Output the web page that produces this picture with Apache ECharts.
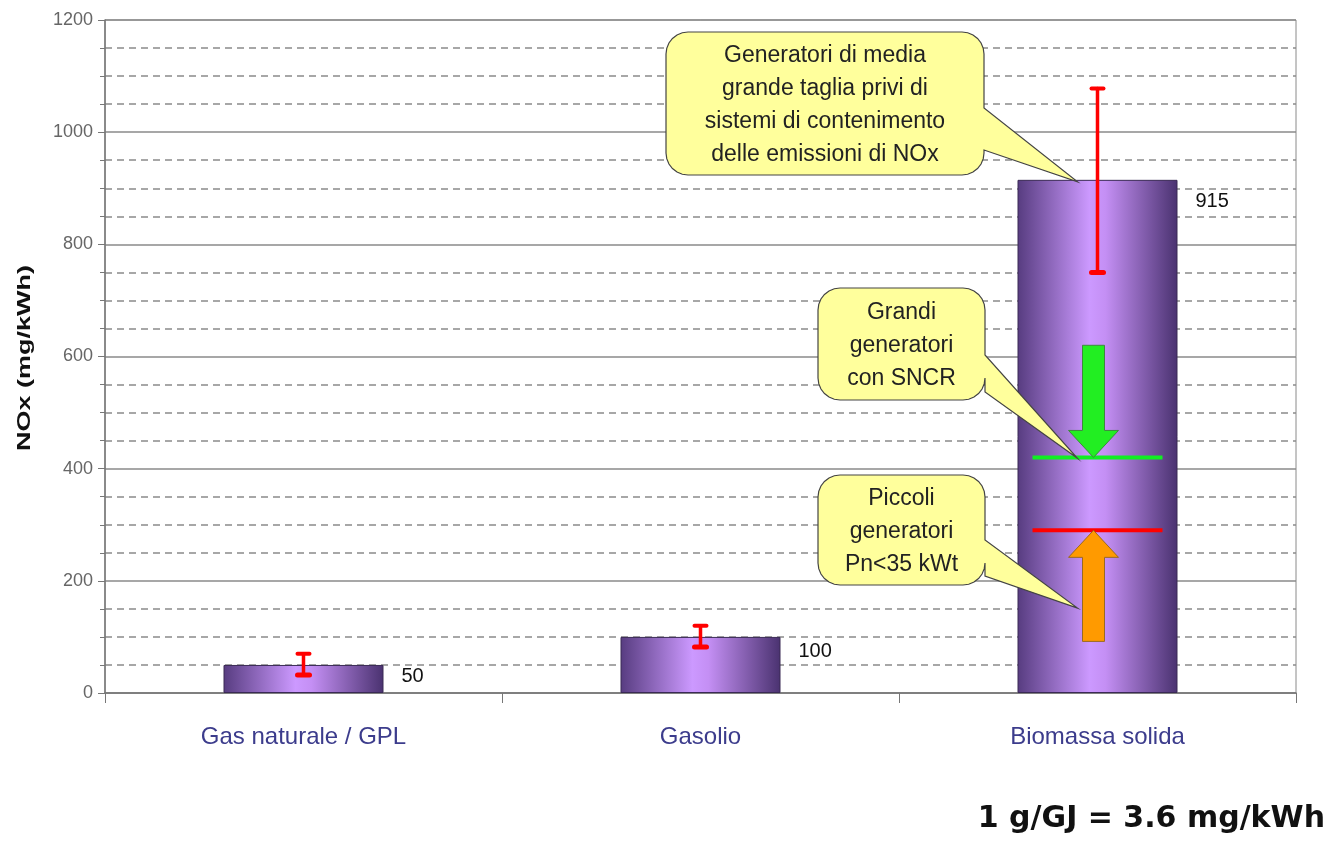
<!DOCTYPE html>
<html>
<head>
<meta charset="utf-8">
<script src="https://cdn.jsdelivr.net/npm/echarts@6/dist/echarts.min.js"></script>
<style>
  html, body { margin: 0; padding: 0; background: #fff; }
  #main { width: 1328px; height: 842px; }
</style>
</head>
<body>
<div id="main"></div>
<script>
// data
var categories = ['Gas naturale / GPL', 'Gasolio', 'Biomassa solida'];
var noxValues = [50, 100, 915];
var errLow = [32, 82, 750];
var errHigh = [70, 120, 1078];
var yTicks = [0, 200, 400, 600, 800, 1000, 1200];

// reference levels on the biomass bar: [category, value]
var levelGreen = [2, 420];
var levelRed = [2, 290];
// arrows: [category, from, to]
var arrowData = [[2, 620, 420], [2, 92, 290]];
// callouts: [category, tip value, text]
var calloutData = [
    [2, 915, 'Generatori di media\ngrande taglia privi di\nsistemi di contenimento\ndelle emissioni di NOx'],
    [2, 422, 'Grandi\ngeneratori\ncon SNCR'],
    [2, 155, 'Piccoli\ngeneratori\nPn<35 kWt']
];

// layout of the callout boxes and value labels (pixels)
var calloutBoxes = [
    { x: 666, y: 32, w: 318, h: 143, p1: 108, p2: 150 },
    { x: 818, y: 288, w: 167, h: 112, p1: 355, p2: 392 },
    { x: 818, y: 475, w: 167, h: 110, p1: 540, p2: 576 }
];
var labelDy = [12, 15, 22];

var chart = echarts.init(document.getElementById('main'));

var barGrad = new echarts.graphic.LinearGradient(0, 0, 1, 0, [
    { offset: 0, color: '#573c80' },
    { offset: 0.45, color: '#cc99ff' },
    { offset: 0.55, color: '#c48ff4' },
    { offset: 1, color: '#4a3270' }
]);

function roundedBubble(b, tip) {
    var r = 22, pts = [];
    function arc(cx, cy, a0, a1) {
        for (var i = 0; i <= 6; i++) {
            var a = a0 + (a1 - a0) * i / 6;
            pts.push([cx + r * Math.cos(a), cy + r * Math.sin(a)]);
        }
    }
    var x0 = b.x, y0 = b.y, x1 = b.x + b.w, y1 = b.y + b.h;
    arc(x0 + r, y0 + r, Math.PI, Math.PI * 1.5);
    arc(x1 - r, y0 + r, Math.PI * 1.5, Math.PI * 2);
    pts.push([x1, b.p1]);
    pts.push(tip);
    pts.push([x1, b.p2]);
    arc(x1 - r, y1 - r, 0, Math.PI * 0.5);
    arc(x0 + r, y1 - r, Math.PI * 0.5, Math.PI);
    return pts;
}

var option = {
    animation: false,
    grid: {
        left: 105,
        right: 32,
        top: 20,
        bottom: 149,
        show: true,
        borderColor: '#8a8a8a',
        borderWidth: 1
    },
    xAxis: {
        type: 'category',
        data: categories,
        axisLine: { lineStyle: { color: '#777', width: 1.5 } },
        axisTick: { show: true, length: 10, lineStyle: { color: '#777' } },
        axisLabel: {
            color: '#3c3c8c',
            fontSize: 24,
            fontFamily: 'Liberation Sans',
            margin: 32
        }
    },
    yAxis: {
        type: 'value',
        min: 0,
        max: 1200,
        interval: 200,
        axisLine: { show: true, lineStyle: { color: '#777', width: 1.5 } },
        axisTick: { show: true, inside: false, length: 7, lineStyle: { color: '#777' } },
        minorTick: { show: true, splitNumber: 4, length: 5, lineStyle: { color: '#777' } },
        axisLabel: {
            color: '#666',
            fontSize: 18,
            fontFamily: 'Liberation Sans',
            margin: 12,
            formatter: function (v) { return yTicks.indexOf(v) >= 0 ? String(v) : ''; }
        },
        splitLine: { lineStyle: { color: '#8a8a8a', width: 1.5 } },
        minorSplitLine: {
            show: true,
            lineStyle: { color: '#8a8a8a', type: [7, 5], width: 1.5 }
        }
    },
    series: [{
        name: 'NOx',
        type: 'bar',
        data: noxValues.map(function (v, i) {
            return { value: v, label: { position: [178, labelDy[i]] } };
        }),
        barWidth: 160,
        z: 2,
        itemStyle: {
            color: barGrad,
            borderColor: '#3a2a55',
            borderWidth: 1
        },
        label: {
            show: true,
            verticalAlign: 'middle',
            color: '#111',
            fontSize: 20,
            fontFamily: 'Liberation Sans'
        }
    }, {
        // error bars
        type: 'custom',
        z: 5,
        data: categories.map(function (c, i) { return [i, errLow[i], errHigh[i]]; }),
        renderItem: function (params, api) {
            var lo = api.coord([api.value(0), api.value(1)]);
            var hi = api.coord([api.value(0), api.value(2)]);
            var x = lo[0], cw = 6;
            var st = { stroke: '#ff0000', lineWidth: 3.5, lineCap: 'round' };
            return {
                type: 'group',
                children: [
                    { type: 'line', shape: { x1: x, y1: lo[1], x2: x, y2: hi[1] }, style: st },
                    { type: 'line', shape: { x1: x - cw, y1: lo[1], x2: x + cw, y2: lo[1] }, style: { stroke: '#ff0000', lineWidth: 5, lineCap: 'round' } },
                    { type: 'line', shape: { x1: x - cw, y1: hi[1], x2: x + cw, y2: hi[1] }, style: { stroke: '#ff0000', lineWidth: 4, lineCap: 'round' } }
                ]
            };
        }
    }, {
        // level lines
        type: 'custom',
        z: 4,
        data: [levelGreen.concat(0), levelRed.concat(1)],
        renderItem: function (params, api) {
            var p = api.coord([api.value(0), api.value(1)]);
            var col = api.value(2) === 0 ? '#11ee22' : '#ff0000';
            return {
                type: 'line',
                shape: { x1: p[0] - 65, y1: p[1], x2: p[0] + 65, y2: p[1] },
                style: { stroke: col, lineWidth: 4 }
            };
        }
    }, {
        // arrows
        type: 'custom',
        z: 4,
        data: arrowData,
        renderItem: function (params, api) {
            var a = api.coord([api.value(0), api.value(1)]);
            var b = api.coord([api.value(0), api.value(2)]);
            var x = a[0] - 4, dir = b[1] > a[1] ? 1 : -1;
            var sw = 11, hw = 25, hl = 27;
            var hb = b[1] - dir * hl;
            var pts = [
                [x - sw, a[1]], [x + sw, a[1]], [x + sw, hb], [x + hw, hb],
                [x, b[1]], [x - hw, hb], [x - sw, hb]
            ];
            var green = params.dataIndex === 0;
            return {
                type: 'polygon',
                shape: { points: pts },
                style: {
                    fill: green ? '#22ee22' : '#ff9a00',
                    stroke: green ? '#3c8a3c' : '#9a6a20',
                    lineWidth: 1
                }
            };
        }
    }, {
        // callouts
        type: 'custom',
        z: 6,
        data: calloutData,
        renderItem: function (params, api) {
            var t = api.coord([api.value(0), api.value(1)]);
            var b = calloutBoxes[params.dataIndex];
            var tip = [t[0] - 20, t[1] + 2];
            return {
                type: 'group',
                children: [{
                    type: 'polygon',
                    shape: { points: roundedBubble(b, tip) },
                    style: { fill: '#ffff9c', stroke: '#444', lineWidth: 1.2 }
                }, {
                    type: 'text',
                    style: {
                        text: calloutData[params.dataIndex][2],
                        x: b.x + b.w / 2,
                        y: b.y + b.h / 2 + 2,
                        align: 'center',
                        verticalAlign: 'middle',
                        fontSize: 23,
                        lineHeight: 33,
                        fontFamily: 'Liberation Sans',
                        fill: '#222'
                    }
                }]
            };
        }
    }],
    graphic: [{
        type: 'text',
        x: 25,
        y: 358,
        rotation: Math.PI / 2,
        scaleX: 1.5,
        style: {
            text: 'NOx (mg/kWh)',
            align: 'center',
            verticalAlign: 'middle',
            fontSize: 18,
            fontWeight: 'bold',
            fontFamily: 'Liberation Sans',
            fill: '#111'
        }
    }, {
        type: 'text',
        right: 3,
        top: 804,
        style: {
            text: '1 g/GJ = 3.6 mg/kWh',
            fontSize: 30,
            fontWeight: 'bold',
            fontFamily: 'DejaVu Sans',
            fill: '#111'
        }
    }]
};

chart.setOption(option);
</script>
</body>
</html>
